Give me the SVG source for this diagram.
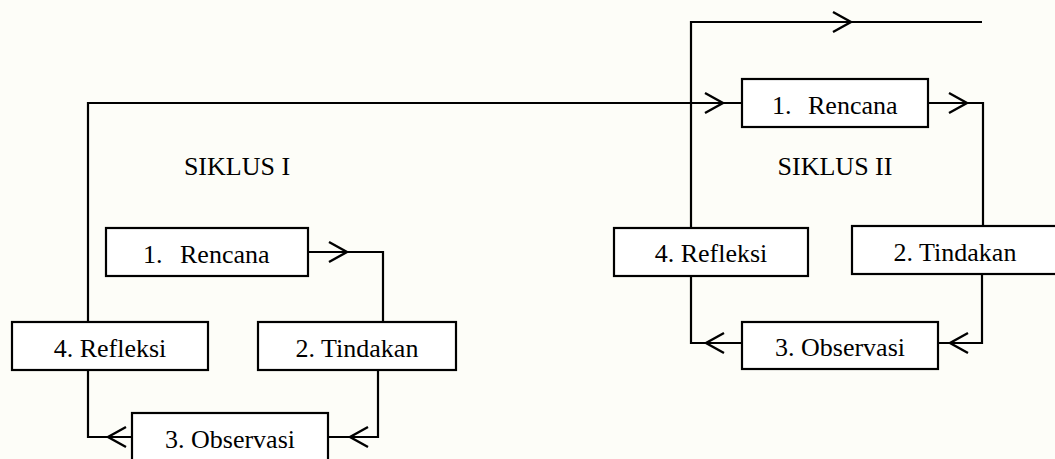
<svg xmlns="http://www.w3.org/2000/svg" xmlns:xlink="http://www.w3.org/1999/xlink" width="1055" height="459" viewBox="0 0 1055 459">
  <style>
    .box { fill: #ffffff; stroke: #000000; stroke-width: 2.2; }
    .lbl { font-family: "Liberation Serif", "Times New Roman", serif; font-size: 26px; fill: #000000; }
    .mid { text-anchor: middle; }
    .wire { fill: none; stroke: #000000; stroke-width: 2.2; stroke-linejoin: miter; }
  </style>
  <defs>
    <!-- open chevron arrowhead, tip at origin, pointing along +x -->
    <path id="chev" d="M-18,-10 L0,0 L-18,10" fill="none" stroke="#000000" stroke-width="2.4"/>
  </defs>

  <rect x="0" y="0" width="1055" height="459" fill="#fdfdf8"/>

  <!-- cycle titles -->
  <text class="lbl mid" x="237" y="175">SIKLUS I</text>
  <text class="lbl mid" x="835" y="175">SIKLUS II</text>

  <!-- connectors -->
  <g id="connectors">
    <!-- cycle I -->
    <path class="wire" d="M308,252 H383 V322"/>
    <use xlink:href="#chev" transform="translate(347,252)"/>
    <path class="wire" d="M378,370 V437 H328"/>
    <use xlink:href="#chev" transform="translate(350,437) rotate(180)"/>
    <path class="wire" d="M132,437 H88 V370"/>
    <use xlink:href="#chev" transform="translate(108,437) rotate(180)"/>
    <!-- reflection I feeds planning II -->
    <path class="wire" d="M88,322 V103 H742"/>
    <use xlink:href="#chev" transform="translate(723,103)"/>
    <!-- cycle II -->
    <path class="wire" d="M928,103 H983 V226"/>
    <use xlink:href="#chev" transform="translate(967,103)"/>
    <path class="wire" d="M982,274 V343 H938"/>
    <use xlink:href="#chev" transform="translate(950,343) rotate(180)"/>
    <path class="wire" d="M742,343 H691 V276"/>
    <use xlink:href="#chev" transform="translate(706,343) rotate(180)"/>
    <!-- reflection II leads onward -->
    <path class="wire" d="M691,228 V22 H982"/>
    <use xlink:href="#chev" transform="translate(851,22)"/>
  </g>

  <!-- cycle I nodes -->
  <g id="rencana-1">
    <rect class="box" x="106" y="228" width="202" height="48"/>
    <text class="lbl" y="263"><tspan x="143">1.</tspan><tspan x="180">Rencana</tspan></text>
  </g>
  <g id="tindakan-1">
    <rect class="box" x="258" y="322" width="198" height="48"/>
    <text class="lbl mid" x="357" y="357">2. Tindakan</text>
  </g>
  <g id="observasi-1">
    <rect class="box" x="132" y="413" width="196" height="52"/>
    <text class="lbl mid" x="230" y="448">3. Observasi</text>
  </g>
  <g id="refleksi-1">
    <rect class="box" x="12" y="322" width="196" height="48"/>
    <text class="lbl mid" x="110" y="357">4. Refleksi</text>
  </g>

  <!-- cycle II nodes -->
  <g id="rencana-2">
    <rect class="box" x="742" y="79" width="186" height="48"/>
    <text class="lbl" y="114"><tspan x="772">1.</tspan><tspan x="808">Rencana</tspan></text>
  </g>
  <g id="tindakan-2">
    <rect class="box" x="852" y="226" width="206" height="48"/>
    <text class="lbl mid" x="955" y="261">2. Tindakan</text>
  </g>
  <g id="observasi-2">
    <rect class="box" x="742" y="322" width="196" height="47"/>
    <text class="lbl mid" x="840" y="356">3. Observasi</text>
  </g>
  <g id="refleksi-2">
    <rect class="box" x="614" y="228" width="194" height="48"/>
    <text class="lbl mid" x="711" y="262">4. Refleksi</text>
  </g>
</svg>
